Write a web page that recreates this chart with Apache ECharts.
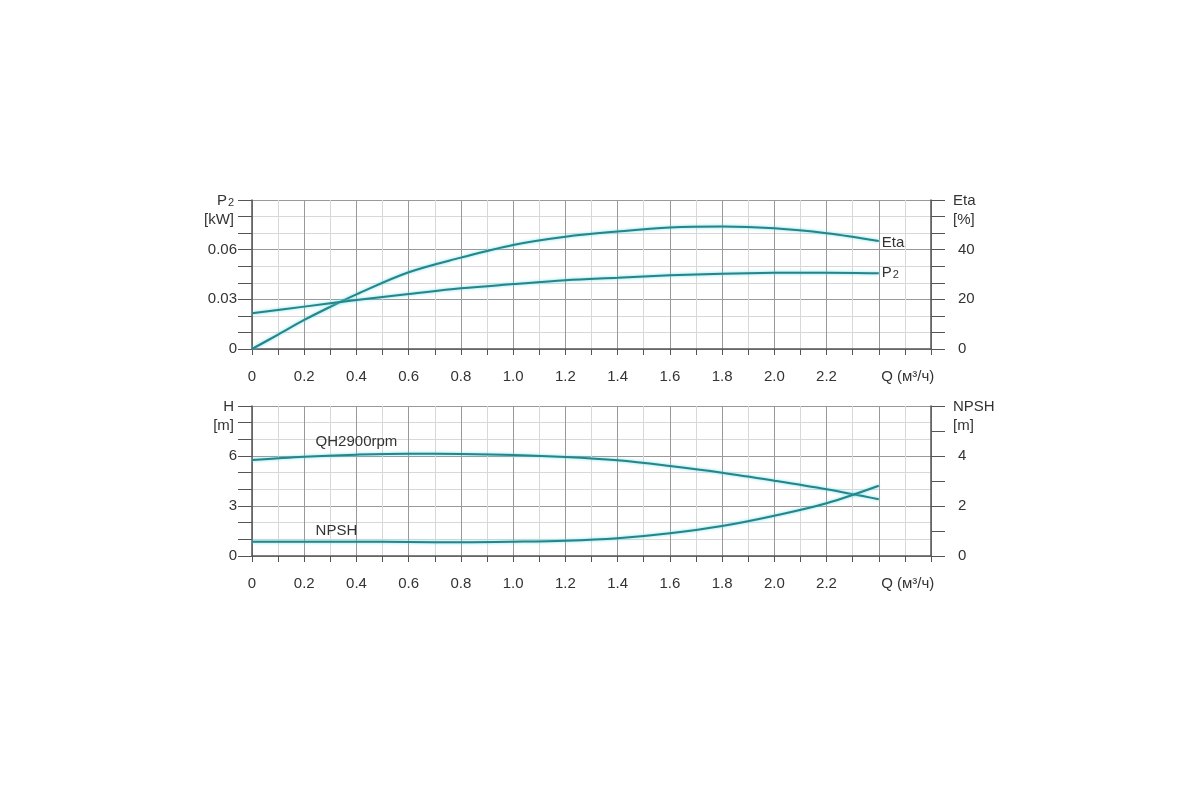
<!DOCTYPE html>
<html>
<head>
<meta charset="utf-8">
<script src="https://cdn.jsdelivr.net/npm/echarts@6/dist/echarts.min.js"></script>
<style>
  html, body { margin: 0; padding: 0; background: #fff; }
  #chart { width: 1200px; height: 800px; }
</style>
</head>
<body>
<div id="chart"></div>
<script>
// flow, m3/h
var qTop = [0, 0.1, 0.2, 0.3, 0.4, 0.6, 0.8, 1.0, 1.2, 1.4, 1.6, 1.8, 2.0, 2.2, 2.4];
var eta = [0, 5.8, 11.7, 17, 22, 30.9, 36.8, 41.9, 45.2, 47.3, 48.9, 49.3, 48.6, 46.6, 43.5];
var qStep = [0, 0.2, 0.4, 0.6, 0.8, 1.0, 1.2, 1.4, 1.6, 1.8, 2.0, 2.2, 2.4];
var p2 = [0.0216, 0.0256, 0.0296, 0.0332, 0.0367, 0.0392, 0.0415, 0.0430, 0.0445, 0.0455, 0.0460, 0.0461, 0.0458];
var head = [5.76, 5.96, 6.08, 6.14, 6.12, 6.06, 5.94, 5.74, 5.4, 5.0, 4.52, 4.0, 3.4];
var npsh = [0.57, 0.57, 0.57, 0.56, 0.55, 0.57, 0.61, 0.71, 0.91, 1.2, 1.61, 2.11, 2.81];

var lineCol = '#24858a';
var glow = 'rgba(90,215,225,0.9)';
var txt = '#333';
var font = 'Liberation Sans, Arial, sans-serif';
var fs = 15;
var subRich = {
  b: { fontSize: fs, color: txt, fontFamily: font },
  s: { fontSize: 11, color: txt, fontFamily: font, padding: [4, 0, 0, 1] }
};

function pairs(xs, ys) {
  return xs.map(function (x, i) { return [x, ys[i]]; });
}

function xAxisFor(gi) {
  return {
    gridIndex: gi, type: 'value', min: 0, max: 2.6, interval: 0.2,
    axisLine: { lineStyle: { color: '#555', width: 1.5 } },
    axisTick: { length: 6, lineStyle: { color: '#555' } },
    minorTick: { show: true, splitNumber: 2, length: 6, lineStyle: { color: '#555' } },
    splitLine: { lineStyle: { color: '#999' } },
    minorSplitLine: { show: true, lineStyle: { color: '#d8d8d8' } },
    axisLabel: {
      margin: 20, fontSize: fs, color: txt, fontFamily: font,
      formatter: function (v) {
        if (Math.abs(v - 2.4) < 1e-6) return '{q|Q (м³/ч)}';
        if (v > 2.45) return '';
        return v === 0 ? '0' : v.toFixed(1);
      },
      rich: { q: { fontSize: fs, color: txt, fontFamily: font, padding: [0, 0, 0, 58] } }
    }
  };
}

function yAxisFor(gi, side, max, step, minor, name, fmt, withSplit) {
  var left = side === 'left';
  return {
    gridIndex: gi, type: 'value', position: side, min: 0, max: max, interval: step,
    name: name, nameLocation: 'end', nameGap: 9,
    nameTextStyle: {
      color: txt, fontSize: fs, fontFamily: font, lineHeight: 19,
      align: left ? 'right' : 'left', verticalAlign: 'top',
      padding: left ? [0, 18, 0, 0] : [0, 0, 0, 22],
      rich: subRich
    },
    axisLine: { show: true, lineStyle: { color: '#555', width: 1.5 } },
    axisTick: { show: true, length: 14, lineStyle: { color: '#555' } },
    minorTick: { show: true, splitNumber: minor, length: 14, lineStyle: { color: '#555' } },
    splitLine: { show: withSplit, lineStyle: { color: '#999' } },
    minorSplitLine: { show: withSplit, lineStyle: { color: '#d8d8d8' } },
    axisLabel: {
      margin: left ? 15 : 27, fontSize: fs, color: txt, fontFamily: font,
      formatter: function (v) { return v >= max - 1e-9 ? '' : fmt(v); }
    }
  };
}

function curve(name, xi, yi, data, extra) {
  var s = {
    name: name, type: 'line', xAxisIndex: xi, yAxisIndex: yi, data: data,
    smooth: 0.35, symbol: 'none', showSymbol: true, silent: true,
    lineStyle: { color: lineCol, width: 2, shadowColor: glow, shadowBlur: 3 },
    itemStyle: { color: 'rgba(0,0,0,0)' }
  };
  for (var k in extra) s[k] = extra[k];
  return s;
}

function tagged(data, idx, text, dx, dist) {
  var d = data.slice();
  d[idx] = {
    value: d[idx], symbol: 'circle', symbolSize: 1,
    label: { show: true, formatter: text, position: 'top', distance: dist, offset: [dx, 0],
      color: txt, fontSize: fs, fontFamily: font }
  };
  return d;
}

var chart = echarts.init(document.getElementById('chart'));
chart.setOption({
  animation: false,
  backgroundColor: '#fff',
  grid: [
    { left: 252, top: 200, width: 679, height: 149 },
    { left: 252, top: 406, width: 679, height: 150 }
  ],
  xAxis: [xAxisFor(0), xAxisFor(1)],
  yAxis: [
    yAxisFor(0, 'left', 0.09, 0.03, 3, '{b|P}{s|2}\n{b|[kW]}', function (v) { return v === 0 ? '0' : v.toFixed(2); }, true),
    yAxisFor(0, 'right', 60, 20, 3, 'Eta\n[%]', function (v) { return String(v); }, false),
    yAxisFor(1, 'left', 9, 3, 3, 'H\n[m]', function (v) { return String(v); }, true),
    yAxisFor(1, 'right', 6, 2, 2, 'NPSH\n[m]', function (v) { return String(v); }, false)
  ],
  series: [
    curve('Eta', 0, 1, pairs(qTop, eta), {
      endLabel: { show: true, formatter: 'Eta', distance: 3, offset: [0, 2], color: txt, fontSize: fs, fontFamily: font }
    }),
    curve('P2', 0, 0, pairs(qStep, p2), {
      endLabel: { show: true, formatter: '{b|P}{s|2}', distance: 3, color: txt, fontSize: fs, fontFamily: font, rich: subRich }
    }),
    curve('QH2900rpm', 1, 2, tagged(pairs(qStep, head), 2, 'QH2900rpm', 0, 5), {}),
    curve('NPSH', 1, 3, tagged(pairs(qStep, npsh), 2, 'NPSH', -20, 3), {})
  ]
});
</script>
</body>
</html>
